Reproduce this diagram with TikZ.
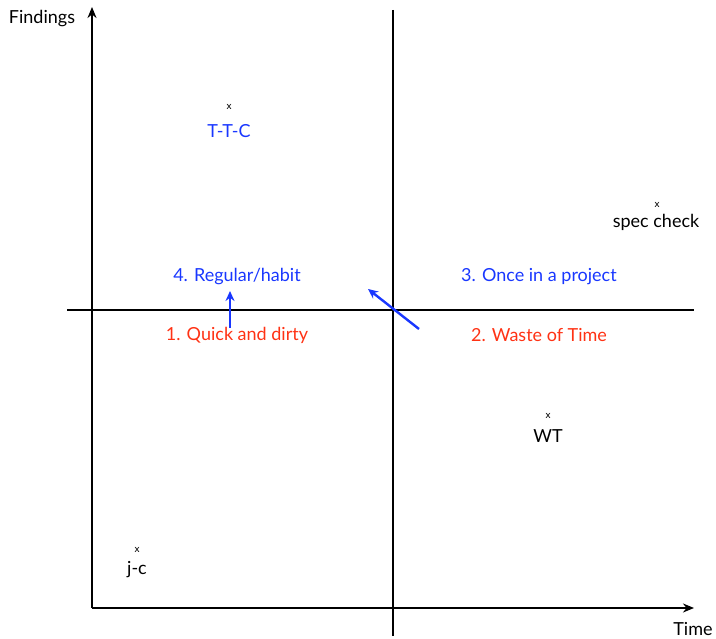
\documentclass[tikz,border=0pt]{standalone}
\usepackage{fontspec}
\setmainfont{Lato}
\usetikzlibrary{arrows.meta}
\definecolor{qblue}{RGB}{25,55,255}
\definecolor{qred}{RGB}{255,50,20}
\tikzset{
  axis/.style={line width=2pt,-{Stealth[length=11pt,width=9pt]}},
  divider/.style={line width=2pt},
  movearrow/.style={qblue,line width=2.4pt,-{Stealth[length=10pt,width=9pt]}},
  lbl/.style={font=\fontsize{18}{20}\selectfont},
  quad/.style={font=\fontsize{18}{20}\selectfont},
  xmark/.style={font=\fontsize{10}{11}\selectfont,inner sep=0pt},
}
\begin{document}
\begin{tikzpicture}[x=1pt,y=-1pt]
\useasboundingbox (0,0) rectangle (716,639);
% axes
\coordinate (o) at (92,608);
\coordinate (ytop) at (92,7);
\coordinate (xend) at (694,608);
\draw[axis] (o) -- (ytop);
\draw[axis] (o) -- (xend);
\node[lbl] (findings) at (42,19) {Findings};
\node[lbl] (time) at (693,629) {Time};
% quadrant dividers
\coordinate (vt) at (393,10);
\coordinate (vb) at (393,636);
\coordinate (hl) at (67,310);
\coordinate (hr) at (694,310);
\draw[divider] (vt) -- (vb);
\draw[divider] (hl) -- (hr);
% quadrant names
\node[quad,qblue] (q4) at (237,277) {4. Regular/habit};
\node[quad,qblue] (q3) at (539,277) {3. Once in a project};
\node[quad,qred] (q1) at (237,335) {1. Quick and dirty};
\node[quad,qred] (q2) at (539,335) {2. Waste of Time};
% moves between quadrants
\coordinate (a1s) at (230,328);
\coordinate (a1e) at (230,291);
\coordinate (a2s) at (419,329);
\coordinate (a2e) at (368,289);
\draw[movearrow] (a1s) -- (a1e);
\draw[movearrow] (a2s) -- (a2e);
% tools
\node[xmark] (ttcx) at (229,107) {x};
\node[quad,qblue] (ttc) at (229,131) {T-T-C};
\node[xmark] (specx) at (657,205) {x};
\node[quad] (spec) at (656,222) {spec check};
\node[xmark] (wtx) at (548,416) {x};
\node[quad] (wt) at (548,436) {WT};
\node[xmark] (jcx) at (137,550) {x};
\node[quad] (jc) at (137,570) {j-c};
\end{tikzpicture}
\end{document}
